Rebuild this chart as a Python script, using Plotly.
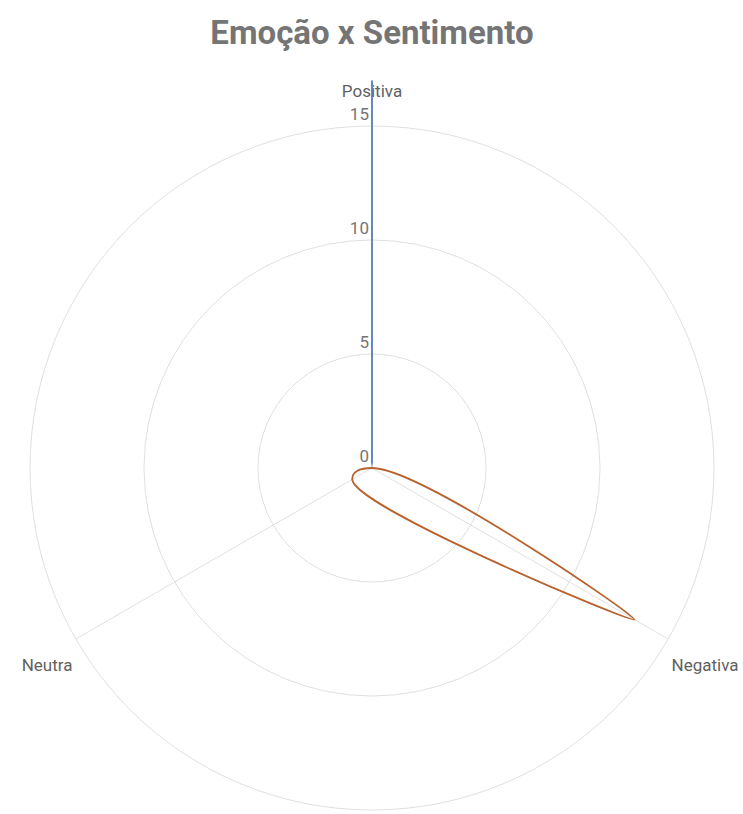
import plotly.graph_objects as go

categories = ["Positiva", "Negativa", "Neutra"]
category_labels = ["Positiva<br> ", " <br>Negativa", " <br>Neutra"]
serie_positiva = [17.0, 0.0, 0.0]
serie_negativa = [0.0, 13.3, 1.0]
radial_ticks = [0, 5, 10, 15]
radial_tick_labels = ["0<br> ", "5<br> ", "10<br> ", "15<br> "]

W, H = 743, 814
CX, CY = 372, 468          # centre of the radar in page pixels
PX_PER_UNIT = 22.8
GRID_MAX = 15
PEAK_MAX = 17.5


def closed(vals):
    return vals + vals[:1]


cats_closed = closed(categories)

R_main = GRID_MAX * PX_PER_UNIT
R_peak = PEAK_MAX * PX_PER_UNIT

fig = go.Figure()
fig.add_trace(go.Scatterpolar(
    r=closed(serie_negativa), theta=cats_closed, mode="lines",
    line=dict(color="#b8612c", width=1.8, shape="spline", smoothing=1.3),
    name="Negativo", hoverinfo="skip", subplot="polar"))
fig.add_trace(go.Scatterpolar(
    r=closed(serie_positiva), theta=cats_closed, mode="lines",
    line=dict(color="#5a7bb3", width=1.8, shape="spline", smoothing=1.3),
    name="Positivo", hoverinfo="skip", subplot="polar2"))

fig.update_layout(
    width=W, height=H,
    margin=dict(l=0, r=0, t=0, b=0),
    paper_bgcolor="white", plot_bgcolor="white",
    showlegend=False,
    font=dict(family="Roboto", color="#616161", size=17),
    title=dict(text="<b>Emoção x Sentimento</b>", x=CX / W, xanchor="center",
               y=1 - 32 / H, yanchor="middle",
               font=dict(family="Roboto", size=33, color="#757575")),
    polar=dict(
        domain=dict(x=[(CX - R_main) / W, (CX + R_main) / W],
                    y=[1 - (CY + R_main) / H, 1 - (CY - R_main) / H]),
        bgcolor="rgba(0,0,0,0)",
        angularaxis=dict(
            type="category", categoryarray=categories,
            direction="clockwise", rotation=90,
            tickmode="array", tickvals=categories, ticktext=category_labels,
            showline=True, linecolor="#e0e0e0", linewidth=1,
            gridcolor="#e0e0e0", gridwidth=1,
            ticks="", ticklen=0,
            tickfont=dict(family="Roboto", size=17, color="#616161"),
        ),
        radialaxis=dict(
            range=[0, GRID_MAX], tickmode="array",
            tickvals=radial_ticks, ticktext=radial_tick_labels,
            angle=90, side="counterclockwise", tickangle=90,
            showline=False, gridcolor="#e0e0e0", gridwidth=1,
            ticks="", tickfont=dict(family="Roboto", size=17, color="#757575"),
        ),
    ),
    polar2=dict(
        sector=[80, 100],
        domain=dict(x=[(CX - 100) / W, (CX + 100) / W],
                    y=[1 - CY / H, 1 - (CY - R_peak) / H]),
        bgcolor="rgba(0,0,0,0)",
        angularaxis=dict(
            type="category", categoryarray=categories,
            direction="clockwise", rotation=90,
            showline=False, showgrid=False, showticklabels=False, ticks="",
        ),
        radialaxis=dict(
            range=[0, PEAK_MAX], visible=False, showgrid=False,
        ),
    ),
)

fig.write_html("out.html")
